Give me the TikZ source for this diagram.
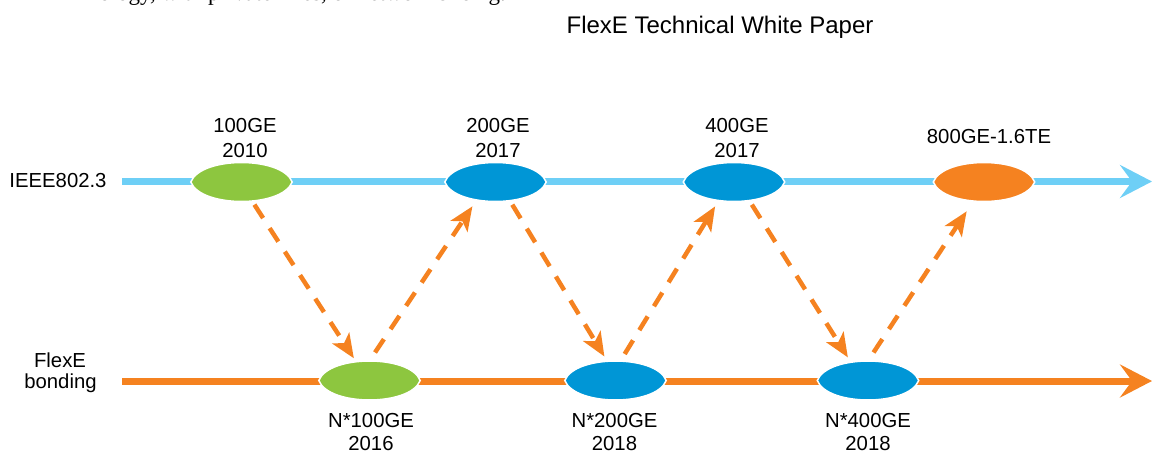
\documentclass[tikz,border=0pt]{standalone}
\usepackage{fontspec}
\setmainfont{Liberation Sans}
\newfontfamily\serifpara{Liberation Serif}
\usetikzlibrary{arrows.meta,shapes.geometric}

\definecolor{ieeeblue}{RGB}{110,207,246}
\definecolor{nodeblue}{RGB}{0,150,214}
\definecolor{leafgreen}{RGB}{141,198,63}
\definecolor{flexorange}{RGB}{245,130,32}

% lens-shaped milestone badge drawn over an (invisible) named ellipse node
\newcommand\lensfill[2]{%
  \filldraw[fill=#2, draw=white, line width=1.5pt]
    (#1.west) .. controls +(10,-26) and +(-10,-26) .. (#1.east)
              .. controls +(-10,26) and +(10,26) .. (#1.west) -- cycle;}

\begin{document}
\begin{tikzpicture}[x=1pt,y=-1pt,
  milestone/.style={shape=ellipse, minimum width=101pt, minimum height=39pt, inner sep=0pt},
  lbl/.style={anchor=base, inner sep=0pt, font=\fontsize{20.3}{24}\selectfont},
  mainline/.style={line width=7pt, -{Stealth[length=32pt,width=33pt,inset=12pt]}},
  flow/.style={draw=flexorange, line width=4.5pt, dash pattern=on 16pt off 12pt,
               -{Stealth[length=24pt,width=20pt,inset=6pt]}}]
\useasboundingbox (0,0) rectangle (1152,452);

% running text of the page above, cut by the page edge
\begin{scope}
  \clip (0,0) rectangle (1152,12);
  \node[anchor=base east, inner sep=0pt, font=\serifpara\fontsize{23}{27}\selectfont]
    (prevline) at (506,1) {ology, with private lines, or network slicing.};
\end{scope}

% page header
\node[anchor=base, inner sep=0pt, font=\fontsize{24}{28}\selectfont]
  (header) at (720,34) {FlexE Technical White Paper};

% track labels
\node[lbl] (ieee) at (58,187) {IEEE802.3};
\node[lbl] (flexa) at (60,367) {FlexE};
\node[lbl] (flexb) at (60.5,388) {bonding};

% milestone anchors
\node[milestone] (g100) at (241.5,182) {};
\node[milestone] (b200) at (495.5,182) {};
\node[milestone] (b400) at (734,182) {};
\node[milestone] (o800) at (984,182) {};
\node[milestone] (n100) at (369.5,380.5) {};
\node[milestone] (n200) at (615.5,380.5) {};
\node[milestone] (n400) at (868,380.5) {};

% the two timelines
\coordinate (tstart) at (122,181.5);
\coordinate (tend) at (1152,181.5);
\coordinate (bstart) at (122,381);
\coordinate (bend) at (1152,381);
\draw[mainline, ieeeblue] (tstart) -- (tend);
\draw[mainline, flexorange] (bstart) -- (bend);

% milestone badges
\lensfill{g100}{leafgreen}
\lensfill{b200}{nodeblue}
\lensfill{b400}{nodeblue}
\lensfill{o800}{flexorange}
\lensfill{n100}{leafgreen}
\lensfill{n200}{nodeblue}
\lensfill{n400}{nodeblue}

% milestone captions
\node[lbl] (g100a) at (245,132) {100GE};
\node[lbl] (g100b) at (245,157) {2010};
\node[lbl] (b200a) at (498,132) {200GE};
\node[lbl] (b200b) at (498,157) {2017};
\node[lbl] (b400a) at (737,132) {400GE};
\node[lbl] (b400b) at (737,157) {2017};
\node[lbl] (o800a) at (989,143) {800GE-1.6TE};
\node[lbl] (n100a) at (371,427) {N*100GE};
\node[lbl] (n100b) at (371,450) {2016};
\node[lbl] (n200a) at (614.5,427) {N*200GE};
\node[lbl] (n200b) at (614.5,450) {2018};
\node[lbl] (n400a) at (868,427) {N*400GE};
\node[lbl] (n400b) at (868,450) {2018};

% evolution between the two tracks
\draw[flow, shorten <=3.5pt, shorten >=3pt] ([xshift=11pt]g100.south) -- ([xshift=-14pt]n100.north);
\draw[flow, shorten <=10pt, shorten >=5.5pt] ([xshift=0pt]n100.north) -- ([xshift=-20pt]b200.south);
\draw[flow, shorten <=3.5pt, shorten >=5pt] ([xshift=15pt]b200.south) -- ([xshift=-8.5pt]n200.north);
\draw[flow, shorten <=8pt, shorten >=5.5pt] ([xshift=5pt]n200.north) -- ([xshift=-16pt]b400.south);
\draw[flow, shorten <=3.5pt, shorten >=4pt] ([xshift=16pt]b400.south) -- ([xshift=-18pt]n400.north);
\draw[flow, shorten <=10pt, shorten >=11.5pt] ([xshift=0pt]n400.north) -- ([xshift=-11pt]o800.south);
\end{tikzpicture}
\end{document}
